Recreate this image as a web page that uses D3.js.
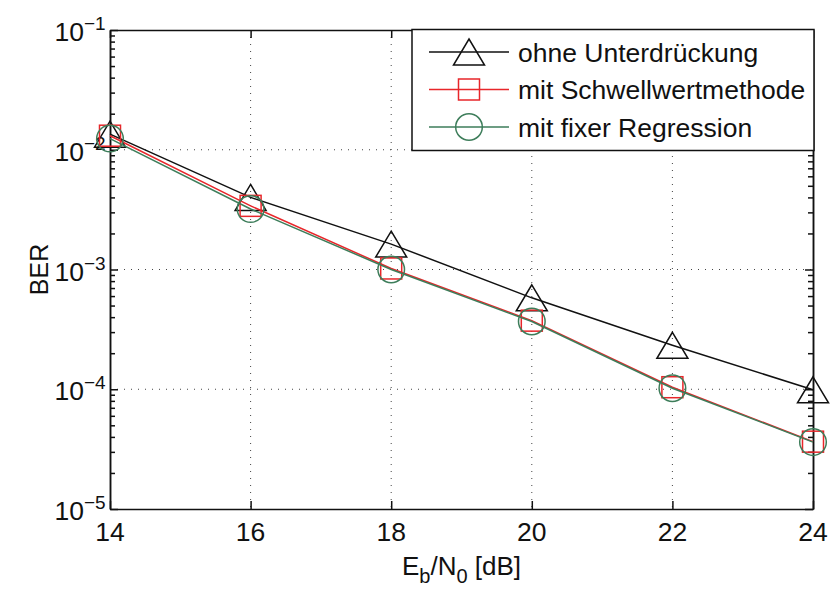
<!DOCTYPE html>
<html>
<head>
<meta charset="utf-8">
<script src="https://cdn.jsdelivr.net/npm/d3@7"></script>
<style>
  body { margin: 0; background: #fff; }
  text { font-family: "Liberation Sans", Arial, sans-serif; fill: #111; }
</style>
</head>
<body>
<div id="chart"></div>
<script>
var snr = [14, 16, 18, 20, 22, 24];
var ohne = [0.0135, 0.0040, 0.00163, 0.00058, 0.000233, 0.0000990];
var schwell = [0.0131, 0.0034, 0.00102, 0.000374, 0.000104, 0.0000365];
var fixer = [0.0124, 0.0032, 0.00100, 0.000368, 0.000102, 0.0000362];
var xTicks = [14, 16, 18, 20, 22, 24];
var yExps = [-1, -2, -3, -4, -5];
var names = ["ohne Unterdrückung", "mit Schwellwertmethode", "mit fixer Regression"];

var w = 832, h = 590,
    padL = 110, padR = 813, padT = 30, padB = 509;

var svg = d3.select("#chart").append("svg")
    .attr("width", w)
    .attr("height", h);

var x = d3.scaleLinear().domain([14, 24]).range([padL, padR]);
var y = d3.scaleLog().domain([1e-5, 1e-1]).range([padB, padT]);

// grid
var grid = svg.append("g")
    .attr("stroke", "#444")
    .attr("stroke-width", 1)
    .attr("stroke-dasharray", "1,6");
grid.selectAll("line.vx")
    .data(xTicks.slice(1, -1))
    .enter().append("line")
    .attr("x1", function (d) { return x(d); })
    .attr("x2", function (d) { return x(d); })
    .attr("y1", padT).attr("y2", padB);
grid.selectAll("line.hy")
    .data(yExps.slice(1, -1))
    .enter().append("line")
    .attr("y1", function (d) { return y(Math.pow(10, d)); })
    .attr("y2", function (d) { return y(Math.pow(10, d)); })
    .attr("x1", padL).attr("x2", padR);

// axes, ticks inward
var xAxisB = d3.axisBottom(x).tickValues(xTicks).tickSizeInner(-8).tickSizeOuter(0).tickFormat("");
var xAxisT = d3.axisTop(x).tickValues(xTicks).tickSizeInner(-8).tickSizeOuter(0).tickFormat("");
var minor = [];
for (var e = -5; e < -1; e++) {
    for (var m = 2; m <= 9; m++) minor.push(m * Math.pow(10, e));
}
var majors = yExps.map(function (d) { return Math.pow(10, d); });
var yAxisL = d3.axisLeft(y).tickValues(majors).tickSizeInner(-8).tickSizeOuter(0).tickFormat("");
var yAxisR = d3.axisRight(y).tickValues(majors).tickSizeInner(-8).tickSizeOuter(0).tickFormat("");
var yMinL = d3.axisLeft(y).tickValues(minor).tickSizeInner(-5).tickSizeOuter(0).tickFormat("");
var yMinR = d3.axisRight(y).tickValues(minor).tickSizeInner(-5).tickSizeOuter(0).tickFormat("");

svg.append("g").attr("class", "axis").attr("transform", "translate(0," + padB + ")").call(xAxisB);
svg.append("g").attr("class", "axis").attr("transform", "translate(0," + padT + ")").call(xAxisT);
svg.append("g").attr("class", "axis").attr("transform", "translate(" + padL + ",0)").call(yAxisL);
svg.append("g").attr("class", "axis").attr("transform", "translate(" + padR + ",0)").call(yAxisR);
svg.append("g").attr("class", "axis").attr("transform", "translate(" + padL + ",0)").call(yMinL);
svg.append("g").attr("class", "axis").attr("transform", "translate(" + padR + ",0)").call(yMinR);
svg.selectAll(".axis path, .axis line").attr("stroke", "#111").attr("stroke-width", 1.5);

// tick labels
svg.selectAll("text.xt")
    .data(xTicks)
    .enter().append("text")
    .attr("x", function (d) { return x(d); })
    .attr("y", padB + 32)
    .attr("text-anchor", "middle")
    .style("font-size", "26.5px")
    .text(function (d) { return d; });

var yl = svg.selectAll("g.yt")
    .data(yExps)
    .enter().append("g")
    .attr("transform", function (d) { return "translate(84," + y(Math.pow(10, d)) + ")"; });
yl.append("text")
    .attr("x", 0).attr("y", 11)
    .attr("text-anchor", "end")
    .style("font-size", "26.5px")
    .text("10");
yl.append("text")
    .attr("x", 0).attr("y", 0)
    .style("font-size", "19px")
    .text(function (d) { return "\u2212" + (-d); });

// axis labels
svg.append("text")
    .attr("transform", "translate(48," + ((padT + padB) / 2) + ") rotate(-90)")
    .attr("text-anchor", "middle")
    .style("font-size", "25px")
    .text("BER");

var xl = svg.append("text")
    .attr("x", (padL + padR) / 2)
    .attr("y", 575)
    .attr("text-anchor", "middle")
    .style("font-size", "26px");
xl.append("tspan").text("E");
xl.append("tspan").attr("dy", 8).style("font-size", "20px").text("b");
xl.append("tspan").attr("dy", -8).text("/N");
xl.append("tspan").attr("dy", 8).style("font-size", "20px").text("0");
xl.append("tspan").attr("dy", -8).text(" [dB]");

// series
var series = [
    { name: names[0], values: ohne, color: "#111111", marker: "tri" },
    { name: names[1], values: schwell, color: "#e8262a", marker: "sq" },
    { name: names[2], values: fixer, color: "#3d7d5a", marker: "circ" }
];

var line = d3.line()
    .x(function (d) { return x(d[0]); })
    .y(function (d) { return y(d[1]); });

function drawMarker(g, type, color) {
    if (type == "tri") {
        g.append("path").attr("d", "M0,-13L15.5,13L-15.5,13Z");
    } else if (type == "sq") {
        g.append("rect").attr("x", -10.5).attr("y", -10.5).attr("width", 21).attr("height", 21);
    } else {
        g.append("circle").attr("r", 13.3);
    }
    g.selectAll("*").attr("fill", "none").attr("stroke", color).attr("stroke-width", 1.5);
}

series.forEach(function (s) {
    var pts = snr.map(function (v, i) { return [v, s.values[i]]; });
    svg.append("path")
        .datum(pts)
        .attr("d", line)
        .attr("fill", "none")
        .attr("stroke", s.color)
        .attr("stroke-width", 1.5);
    pts.forEach(function (p) {
        var g = svg.append("g").attr("transform", "translate(" + x(p[0]) + "," + y(p[1]) + ")");
        drawMarker(g, s.marker, s.color);
    });
});

// legend
var lg = svg.append("g");
lg.append("rect")
    .attr("x", 412).attr("y", 29.5)
    .attr("width", 402).attr("height", 121)
    .attr("fill", "#fff")
    .attr("stroke", "#111")
    .attr("stroke-width", 1.5);
series.forEach(function (s, i) {
    var yy = 52 + i * 37.5;
    lg.append("line")
        .attr("x1", 429).attr("x2", 509)
        .attr("y1", yy).attr("y2", yy)
        .attr("stroke", s.color).attr("stroke-width", 1.5);
    var g = lg.append("g").attr("transform", "translate(469," + yy + ")");
    drawMarker(g, s.marker, s.color);
    lg.append("text")
        .attr("x", 518).attr("y", yy + 9.5)
        .style("font-size", "26.5px")
        .text(s.name);
});
</script>
</body>
</html>
